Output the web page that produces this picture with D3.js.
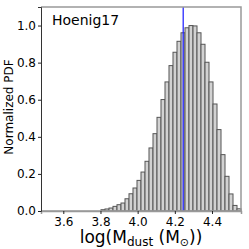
<!DOCTYPE html>
<html>
<head>
<meta charset="utf-8">
<script src="https://cdn.jsdelivr.net/npm/d3@7"></script>
<style>
  body { margin: 0; background: #fff; }
  svg { display: block; font-family: "DejaVu Sans", sans-serif; }
</style>
</head>
<body>
<svg width="249" height="249"></svg>
<script>
// histogram data (normalized PDF, 50 bins over the x range)
var xRange = [3.48, 4.556];
var pdf = [
  0, 0, 0, 0, 0, 0, 0, 0, 0, 0,
  0, 0, 0, 0, 0, 0.007, 0.011, 0.016, 0.025, 0.034,
  0.043, 0.066, 0.093, 0.124, 0.165, 0.210, 0.268, 0.340, 0.417, 0.505,
  0.601, 0.696, 0.784, 0.856, 0.915, 0.961, 0.988, 1.0, 0.998, 0.961,
  0.899, 0.802, 0.696, 0.577, 0.439, 0.304, 0.187, 0.092, 0.030, 0.012
];
var marker = 4.245;
var xTicks = [3.6, 3.8, 4.0, 4.2, 4.4];
var yTicks = [0.0, 0.2, 0.4, 0.6, 0.8, 1.0];
var label = 'Hoenig17';

// plot box
var pL = 41, pT = 7, pR = 241, pB = 211;

var x = d3.scaleLinear().domain(xRange).range([pL, pR]);
var y = d3.scaleLinear().domain([0, 1.1]).range([pB, pT]);

var svg = d3.select('svg');

// bins
var binW = (xRange[1] - xRange[0]) / pdf.length;
var bins = pdf.map(function(v, i) {
  return { x0: xRange[0] + i * binW, x1: xRange[0] + (i + 1) * binW, v: v };
});

svg.selectAll('.bar')
  .data(bins)
  .enter()
  .append('rect')
  .attr('class', 'bar')
  .attr('x', function(d) { return x(d.x0); })
  .attr('y', function(d) { return y(d.v); })
  .attr('width', function(d) { return x(d.x1) - x(d.x0); })
  .attr('height', function(d) { return y(0) - y(d.v); })
  .style('fill', '#d2d2d2')
  .style('stroke', '#555')
  .style('stroke-width', 1);

// vertical marker
svg.append('line')
  .attr('x1', x(marker)).attr('x2', x(marker))
  .attr('y1', pT).attr('y2', pB)
  .style('stroke', '#1a1aff')
  .style('stroke-width', 1.2);

// frame
svg.append('path')
  .attr('d', 'M' + pL + ',' + pT + 'H' + pR + 'V' + pB + 'H' + pL)
  .style('fill', 'none')
  .style('stroke', '#999')
  .style('stroke-width', 1.5);

// axes
var xAxis = svg.append('g')
  .attr('transform', 'translate(0,' + pB + ')')
  .call(d3.axisBottom(x).tickValues(xTicks).tickFormat(d3.format('.1f')).tickSize(3).tickPadding(3));
var yAxis = svg.append('g')
  .attr('transform', 'translate(' + pL + ',0)')
  .call(d3.axisLeft(y).tickValues(yTicks).tickFormat(d3.format('.1f')).tickSize(3).tickPadding(2));

xAxis.select('.domain').style('stroke', '#999').style('stroke-width', 1.5);
yAxis.select('.domain').style('stroke', '#333');
svg.selectAll('.tick text')
  .style('font-family', '"DejaVu Sans", sans-serif')
  .style('font-size', '12px')
  .style('fill', '#000');
svg.selectAll('.tick line').style('stroke', '#222');

// title inside plot
svg.append('text')
  .attr('x', 52)
  .attr('y', 25)
  .style('font-size', '14px')
  .text(label);

// y label
svg.append('text')
  .attr('transform', 'translate(12.5,107) rotate(-90)')
  .attr('text-anchor', 'middle')
  .style('font-size', '12px')
  .text('Normalized PDF');

// x label
var xl = svg.append('text')
  .attr('x', 141)
  .attr('y', 243)
  .attr('text-anchor', 'middle')
  .style('font-size', '17px');
xl.append('tspan').text('log(M');
xl.append('tspan').attr('dy', 3).style('font-size', '12px').text('dust');
xl.append('tspan').attr('dy', -3).text(' (M');
xl.append('tspan').attr('dy', 3).style('font-size', '11px').text('\u2299');
xl.append('tspan').attr('dy', -3).text('))');
</script>
</body>
</html>
